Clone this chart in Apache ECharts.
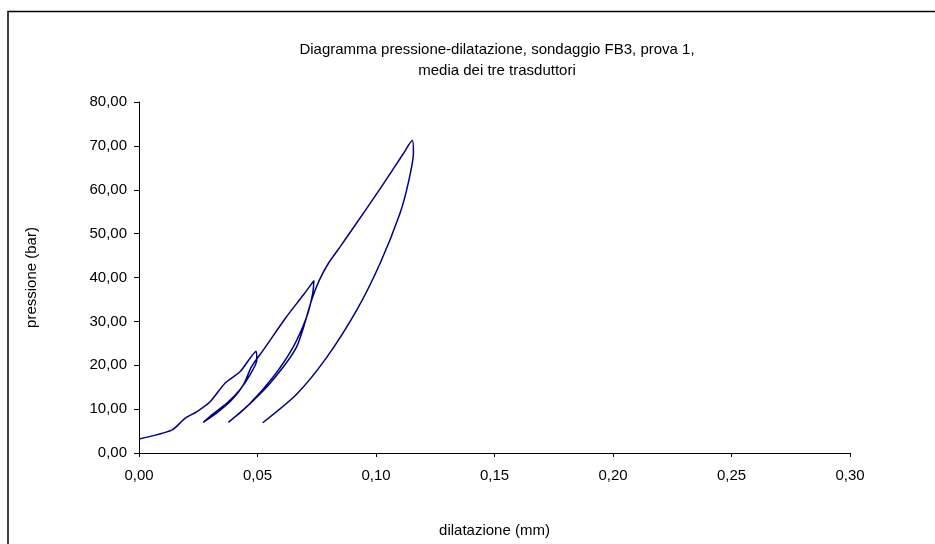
<!DOCTYPE html>
<html>
<head>
<meta charset="utf-8">
<script src="https://cdn.jsdelivr.net/npm/echarts@6/dist/echarts.min.js"></script>
<style>
html,body{margin:0;padding:0;background:#fff;}
#chart{width:935px;height:544px;}
</style>
</head>
<body>
<div id="chart"></div>
<script>
// dilatazione (mm) and pressione (bar), in measurement order
var dilatazione = [
  0.0000, 0.0138, 0.0194, 0.0243, 0.0300, 0.0363, 0.0426, 0.0494,
  0.0497, 0.0468, 0.0426, 0.0370, 0.0314, 0.0271,
  0.0330, 0.0390, 0.0440, 0.0475, 0.0525, 0.0623, 0.0693, 0.0738,
  0.0733, 0.0708, 0.0651, 0.0567, 0.0468, 0.0377,
  0.0440, 0.0553, 0.0665, 0.0729, 0.0760, 0.0800, 0.0850, 0.0900, 0.1017, 0.1115, 0.1153,
  0.1158, 0.1136, 0.1101, 0.1017, 0.0918, 0.0792, 0.0665, 0.0522
];
var pressione = [
  3.2, 5.2, 7.9, 9.4, 11.7, 15.9, 18.5, 23.2,
  21.2, 17.8, 14.4, 11.3, 9.0, 7.0,
  9.2, 12.0, 15.5, 19.7, 23.5, 31.1, 36.0, 39.3,
  36.4, 31.1, 24.2, 17.4, 11.3, 7.0,
  9.8, 15.9, 24.2, 35.0, 39.3, 43.3, 47.1, 51.0, 60.2, 68.2, 71.2,
  68.5, 61.5, 54.6, 43.2, 32.5, 21.8, 13.4, 6.9
];
var titleLines = ['Diagramma pressione-dilatazione, sondaggio FB3, prova 1,', 'media dei tre trasduttori'];
var xName = 'dilatazione (mm)';
var yName = 'pressione (bar)';

var FONT = '"Liberation Sans", Arial, sans-serif';
var points = dilatazione.map(function (x, i) { return [x, pressione[i]]; });

var chart = echarts.init(document.getElementById('chart'));
chart.setOption({
  animation: false,
  backgroundColor: '#fff',
  textStyle: { fontFamily: FONT },
  graphic: [
    { type: 'rect', shape: { x: 8, y: 11.5, width: 1000, height: 1000 },
      style: { fill: 'none', stroke: '#000', lineWidth: 1.5 }, silent: true },
    { type: 'text', x: 497, y: 50,
      style: { text: titleLines[0], font: '15px ' + FONT, fill: '#000', textAlign: 'center', textVerticalAlign: 'middle' } },
    { type: 'text', x: 497, y: 71,
      style: { text: titleLines[1], font: '15px ' + FONT, fill: '#000', textAlign: 'center', textVerticalAlign: 'middle' } }
  ],
  grid: { left: 139, right: 85, top: 102, bottom: 91, containLabel: false },
  xAxis: {
    type: 'value', min: 0, max: 0.30, interval: 0.05,
    name: xName, nameLocation: 'middle', nameGap: 70,
    nameTextStyle: { fontSize: 15, color: '#000', fontFamily: FONT },
    axisLine: { show: true, lineStyle: { color: '#000', width: 1 } },
    axisTick: { show: true, inside: false, length: 4, lineStyle: { color: '#000' } },
    axisLabel: { fontSize: 15, color: '#000', margin: 15, fontFamily: FONT,
      formatter: function (v) { return v.toFixed(2).replace('.', ','); } },
    splitLine: { show: false }
  },
  yAxis: {
    type: 'value', min: 0, max: 80, interval: 10,
    name: yName, nameLocation: 'middle', nameGap: 100, nameRotate: 90,
    nameTextStyle: { fontSize: 15, color: '#000', fontFamily: FONT },
    axisLine: { show: true, lineStyle: { color: '#000', width: 1 } },
    axisTick: { show: true, inside: false, length: 5, lineStyle: { color: '#000' } },
    axisLabel: { fontSize: 15, color: '#000', margin: 12, fontFamily: FONT,
      formatter: function (v) { return v.toFixed(2).replace('.', ','); } },
    splitLine: { show: false }
  },
  series: [{
    type: 'line', data: points, showSymbol: false, smooth: 0.25,
    lineStyle: { color: '#000080', width: 1.5 }
  }]
});
</script>
</body>
</html>
